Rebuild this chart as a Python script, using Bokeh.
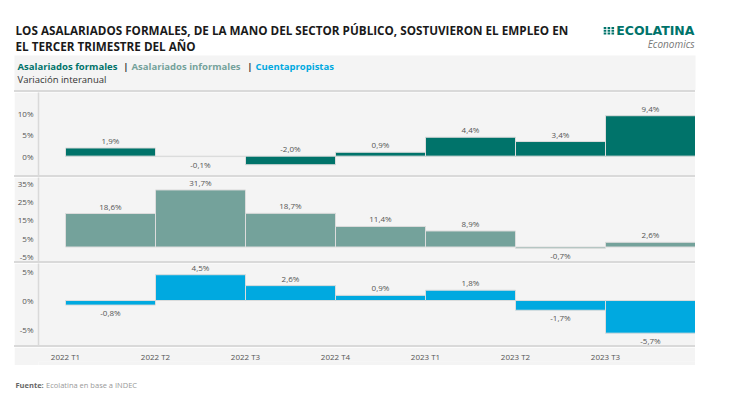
import numpy as np
from bokeh.plotting import figure
from bokeh.layouts import column
from bokeh.models import Range1d, FixedTicker, PrintfTickFormatter, ColumnDataSource, Div
from bokeh.core.properties import value
from bokeh.embed import file_html
from bokeh.resources import INLINE

# ---------------- data ----------------
periods = ["2022 T1", "2022 T2", "2022 T3", "2022 T4", "2023 T1", "2023 T2", "2023 T3"]
formales = [1.9, -0.1, -2.0, 0.9, 4.4, 3.4, 9.4]
informales = [18.6, 31.7, 18.7, 11.4, 8.9, -0.7, 2.6]
cuentapropistas = [-0.8, 4.5, 2.6, 0.9, 1.8, -1.7, -5.7]
ticks_formales = [0, 5, 10]
ticks_informales = [-5, 5, 15, 25, 35]
ticks_cuenta = [-5, 0, 5]

# ---------------- style ----------------
FONT = "Open Sans"
BG = "#f4f4f4"
SEP = "#d9d9d9"
C_FORM = "#00736a"
C_INF = "#74a29b"
C_CUE = "#00a9e0"
TXT = "#555555"
W = 714
PW = 681

xr = Range1d(-0.3, 7.0)


def header():
    h = 82
    p = figure(width=W, height=h, x_range=Range1d(0, W), y_range=Range1d(0, h),
               x_axis_type=None, y_axis_type=None, toolbar_location=None,
               output_backend="svg", min_border=0, outline_line_color=None,
               background_fill_color="white", border_fill_color="white",
               frame_align=False)
    p.grid.visible = False
    # gray panel box
    p.quad(left=6, right=687, bottom=0, top=35, fill_color=BG, line_color=None)
    # title
    p.text(x=[7, 7], y=[60.5, 45],
           text=["LOS ASALARIADOS FORMALES, DE LA MANO DEL SECTOR PÚBLICO, SOSTUVIERON EL EMPLEO EN",
                 "EL TERCER TRIMESTRE DEL AÑO"],
           text_font=value(FONT), text_font_size="11.7px", text_font_style="bold",
           text_color="#1a1a1a", text_baseline="middle")
    # logo
    xs, ys = [], []
    for i in range(3):
        for j in range(3):
            xs.append(596.5 + i * 3.9)
            ys.append(62.5 - j * 2.7)
    p.rect(x=xs, y=ys, width=2.6, height=2.0, fill_color=C_FORM, line_color=None)
    p.text(x=[686], y=[60], text=["ECOLATINA"], text_font=value("DejaVu Sans"),
           text_font_size="12.5px", text_font_style="bold", text_color=C_FORM,
           text_align="right", text_baseline="middle")
    p.text(x=[686], y=[47], text=["Economics"], text_font=value(FONT),
           text_font_size="10px", text_font_style="italic", text_color="#777777",
           text_align="right", text_baseline="middle")
    # subtitle
    p.text(x=[9], y=[24], text=["Asalariados formales"], text_font=value(FONT),
           text_font_size="9.5px", text_font_style="bold", text_color=C_FORM, text_baseline="middle")
    p.text(x=[117.3, 241.3], y=[24, 24], text=["|", "|"], text_font=value(FONT),
           text_font_size="9.5px", text_font_style="bold", text_color="#333333",
           text_baseline="middle", text_align="center")
    p.text(x=[123], y=[24], text=["Asalariados informales"], text_font=value(FONT),
           text_font_size="9.5px", text_font_style="bold", text_color=C_INF, text_baseline="middle")
    p.text(x=[247], y=[24], text=["Cuentapropistas"], text_font=value(FONT),
           text_font_size="9.5px", text_font_style="bold", text_color=C_CUE, text_baseline="middle")
    p.text(x=[9], y=[11], text=["Variación interanual"], text_font=value(FONT),
           text_font_size="9.5px", text_color="#333333", text_baseline="middle")
    return p


def sep():
    return Div(text="", width=PW, height=2, margin=(0, 0, 0, 6),
               styles={"background-color": SEP})


def panel(vals, ticks, yrange, height, color):
    p = figure(width=PW, height=height, x_range=xr, y_range=Range1d(*yrange),
               x_axis_type=None, toolbar_location=None, output_backend="svg",
               min_border_left=23, min_border_right=0, min_border_top=0, min_border_bottom=0,
               background_fill_color=BG, border_fill_color=BG, outline_line_color=None,
               margin=(0, 0, 0, 6))
    p.grid.visible = False
    ax = p.yaxis[0]
    ax.ticker = FixedTicker(ticks=ticks)
    ax.formatter = PrintfTickFormatter(format="%d%%")
    ax.axis_line_color = SEP
    ax.axis_line_width = 1.5
    ax.major_tick_line_color = None
    ax.minor_tick_line_color = None
    ax.major_tick_out = 0
    ax.major_tick_in = 0
    ax.major_label_standoff = 5
    ax.major_label_text_font = FONT
    ax.major_label_text_font_size = "8px"
    ax.major_label_text_color = TXT

    idx = np.arange(len(vals))
    v = np.array(vals)
    ppu = height / (yrange[1] - yrange[0])
    # negative labels go below the bar, unless there is no room left in the panel
    below = [(x < 0) and ((x - yrange[0]) * ppu > 11.5) for x in vals]
    src = ColumnDataSource(dict(
        left=idx, right=idx + 1, top=v, mid=idx + 0.5,
        ly=[x if (x >= 0 or b) else 0 for x, b in zip(vals, below)],
        lab=[f"{x:.1f}".replace(".", ",") + "%" for x in vals],
        base=["top" if b else "bottom" for b in below],
        off=[2 if b else -2 for b in below],
    ))
    p.quad(left="left", right="right", bottom=0, top="top", source=src,
           fill_color=color, line_color="#dcdcdc", line_width=1)
    p.text(x="mid", y="ly", text="lab", source=src, text_font=value(FONT),
           text_font_size="8px", text_color=TXT, text_align="center",
           text_baseline="base", y_offset="off")
    return p


def xaxis_fig():
    p = figure(width=PW, height=18, x_range=xr, y_range=Range1d(0, 1),
               x_axis_location="above", y_axis_type=None, toolbar_location=None,
               output_backend="svg", min_border_left=23, min_border_right=0,
               min_border_top=12, min_border_bottom=0,
               background_fill_color=BG, border_fill_color=BG, outline_line_color=None,
               margin=(0, 0, 0, 6))
    p.grid.visible = False
    ax = p.xaxis[0]
    ax.ticker = FixedTicker(ticks=list(range(len(periods))))
    ax.major_label_overrides = {i: lab for i, lab in enumerate(periods)}
    ax.axis_line_color = None
    ax.major_tick_line_color = None
    ax.minor_tick_line_color = None
    ax.major_tick_out = 0
    ax.major_tick_in = 0
    ax.major_label_standoff = 0
    ax.major_label_text_font = FONT
    ax.major_label_text_font_size = "8px"
    ax.major_label_text_color = TXT
    return p


def footer():
    h = 24
    p = figure(width=W, height=h, x_range=Range1d(0, W), y_range=Range1d(0, h),
               x_axis_type=None, y_axis_type=None, toolbar_location=None,
               output_backend="svg", min_border=0, outline_line_color=None,
               background_fill_color="white", border_fill_color="white",
               frame_align=False)
    p.grid.visible = False
    p.text(x=[7], y=[5], text=["Fuente:"], text_font=value(FONT), text_font_size="7.5px",
           text_font_style="bold", text_color="#666666", text_baseline="middle")
    p.text(x=[37.5], y=[5], text=["Ecolatina en base a INDEC"], text_font=value(FONT),
           text_font_size="7.5px", text_color="#999999", text_baseline="middle")
    return p


p = column(
    header(), sep(),
    panel(formales, ticks_formales, (-4.5, 14.8), 83, C_FORM), sep(),
    panel(informales, ticks_informales, (-8.05, 38.6), 84, C_INF), sep(),
    panel(cuentapropistas, ticks_cuenta, (-7.85, 6.46), 82, C_CUE), sep(),
    xaxis_fig(), footer(),
    spacing=0, margin=(8, 0, 0, 8),
)

open("out.html", "w").write(file_html(p, INLINE))
